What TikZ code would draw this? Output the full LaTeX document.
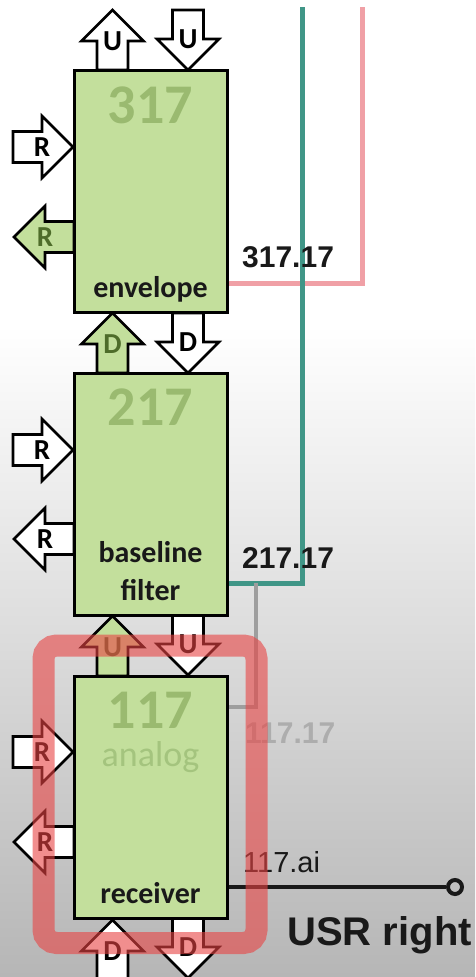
\documentclass[tikz,border=0pt]{standalone}
\usepackage{fontspec}
\setmainfont{Carlito}
\newfontfamily\lsans{Liberation Sans}
\usetikzlibrary{calc}
\definecolor{boxgreen}{RGB}{195,223,156}
\definecolor{numgreen}{RGB}{154,186,112}
\definecolor{anagreen}{RGB}{164,196,126}
\definecolor{lblgreen}{RGB}{78,108,42}
\definecolor{tealc}{RGB}{64,150,135}
\definecolor{pinkc}{RGB}{240,160,166}
\definecolor{graylc}{RGB}{158,158,158}
\definecolor{bggray}{RGB}{182,182,182}
\definecolor{hlred}{RGB}{232,68,68}
\tikzset{
  blk/.style={draw=black, line width=3pt, fill=boxgreen, rectangle, inner sep=0pt,
              minimum width=153pt, minimum height=242pt},
  arrw/.style={draw=black, line width=2.6pt, fill=white, line join=miter},
  arrg/.style={draw=black, line width=2.6pt, fill=boxgreen, line join=miter},
  lblw/.style={font=\fontsize{29}{29}\selectfont\bfseries, text=black, inner sep=0pt},
  lblg/.style={font=\fontsize{29}{29}\selectfont\bfseries, text=lblgreen, inner sep=0pt},
  bignum/.style={font=\fontsize{56}{56}\selectfont\bfseries, text=numgreen, anchor=base, inner sep=0pt},
  boxtxt/.style={font=\fontsize{30}{30}\selectfont\bfseries, text=black!90, anchor=base, inner sep=0pt},
  sigtxt/.style={font=\lsans\fontsize{30}{30}\selectfont\bfseries, text=black!90, anchor=base west, inner sep=0pt},
  pinkline/.style={draw=pinkc, line width=5pt},
  tealline/.style={draw=tealc, line width=5pt},
  grayline/.style={draw=graylc, line width=4pt},
  blackline/.style={draw=black!90, line width=4pt},
  highlight/.style={draw=hlred, draw opacity=0.6, line width=22pt, rounded corners=13pt,
                    rectangle, inner sep=0pt, fill=none}
}
\newcommand{\blockarr}[6]{%
  \begin{scope}[shift={(#2,#3)}, rotate=#4]
    \draw[#5] (0,-15.5) -- (29,-15.5) -- (29,-31) -- (60,0) -- (29,31) -- (29,15.5) -- (0,15.5) -- cycle;
    \coordinate (#1) at (29,0);
  \end{scope}}
\begin{document}
\begin{tikzpicture}[x=1pt, y=-1pt]
\useasboundingbox (0,0) rectangle (475,977);
% background
\fill[white] (0,0) rectangle (475,325);
\shade[top color=white, bottom color=bggray] (0,325) rectangle (475,977);

% connector coordinates
\coordinate (pkTop) at (362,7);
\coordinate (tlTop) at (302,7);
\coordinate (y317) at (0,283);
\coordinate (y217) at (0,583);
\coordinate (gj) at (256,583);
\coordinate (y117) at (0,707);
\coordinate (yai) at (0,887);

% arrows (drawn before the boxes)
\blockarr{a1}{112.5}{70}{90}{arrw}{lblw}
\blockarr{a2}{188}{10}{-90}{arrw}{lblw}
\blockarr{a3}{13}{147}{0}{arrw}{lblw}
\blockarr{a4}{74}{237}{180}{arrg}{lblg}
\blockarr{a5}{112.5}{373}{90}{arrg}{lblg}
\blockarr{a6}{188}{313}{-90}{arrw}{lblw}
\blockarr{a7}{13}{450}{0}{arrw}{lblw}
\blockarr{a8}{74}{539}{180}{arrw}{lblw}
\blockarr{a9}{112.5}{676}{90}{arrg}{lblg}
\blockarr{a10}{188}{615}{-90}{arrw}{lblw}
\blockarr{a11}{13}{752}{0}{arrw}{lblw}
\blockarr{a12}{74}{842}{180}{arrw}{lblw}
\blockarr{a13}{112.5}{980}{90}{arrw}{lblw}
\blockarr{a14}{188}{918}{-90}{arrw}{lblw}

% boxes
\node[blk] (b317) at (150.5,191.5) {};
\node[blk] (b217) at (150.5,494) {};
\node[blk] (b117) at (150.5,797) {};

% connectors
\draw[pinkline] (b317.east |- y317) -| (pkTop);
\draw[tealline] (b217.east |- y217) -| (tlTop);
\draw[grayline] (gj) |- (b117.east |- y117);
\node[circle, draw=black!90, line width=4pt, minimum size=14pt, inner sep=0pt] (usr) at (455,887) {};
\draw[blackline] (b117.east |- yai) -- (usr.west);

% arrow letters
\node[lblw] (l1) at (a1) {U};
\node[lblw] (l2) at (a2) {U};
\node[lblw] (l3) at (a3) {R};
\node[lblg] (l4) at (a4) {R};
\node[lblg] (l5) at (a5) {D};
\node[lblw] (l6) at (a6) {D};
\node[lblw] (l7) at (a7) {R};
\node[lblw] (l8) at (a8) {R};
\node[lblg] (l9) at (a9) {U};
\node[lblw] (l10) at (a10) {U};
\node[lblw] (l11) at (a11) {R};
\node[lblw] (l12) at (a12) {R};
\node[lblw] (l13) at (a13) {D};
\node[lblw] (l14) at (a14) {D};

% box texts
\node[bignum] (n317) at (150.5,123) {317};
\node[boxtxt] (t317) at (150.5,297) {envelope};
\node[bignum] (n217) at (150.5,425) {217};
\node[boxtxt] (t217a) at (150.5,562) {baseline};
\node[boxtxt] (t217b) at (150.5,600) {filter};
\node[bignum] (n117) at (150.5,728) {117};
\node[font=\fontsize{36}{36}\selectfont, text=anagreen, anchor=base, inner sep=0pt] (t117a) at (150.5,766) {analog};
\node[boxtxt] (t117b) at (150.5,903) {receiver};

% signal labels
\node[sigtxt] (s317) at (242,267) {317.17};
\node[sigtxt] (s217) at (242,568) {217.17};
\node[sigtxt, text=graylc!85] (s117) at (245,743) {117.17};
\node[sigtxt, font=\lsans\fontsize{29}{29}\selectfont] (sai) at (243,872) {117.ai};
\node[font=\lsans\fontsize{40}{40}\selectfont\bfseries, text=black!90, anchor=base east, inner sep=0pt] (usrl) at (472,945) {USR right};

% highlight
\node[highlight, minimum width=213pt, minimum height=297.5pt] (hl) at (150,794.25) {};
\end{tikzpicture}
\end{document}
